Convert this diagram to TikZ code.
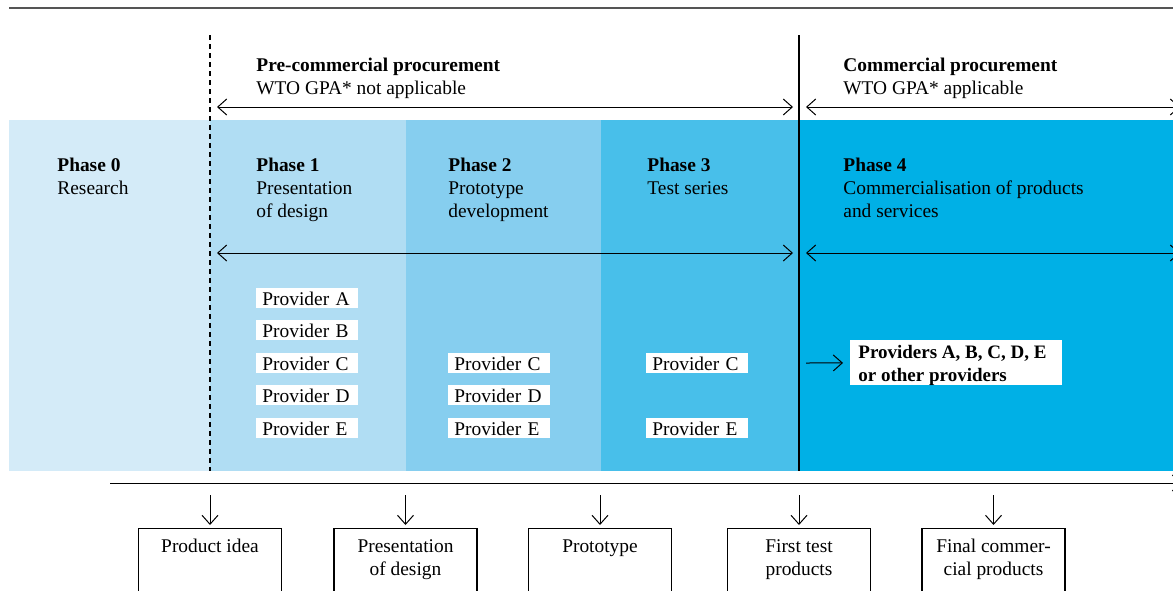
\documentclass[tikz,border=0pt]{standalone}
\usepackage{fontspec}
\setmainfont{Liberation Serif}
\usetikzlibrary{arrows.meta}
\definecolor{cz}{HTML}{D4EBF8}
\definecolor{ca}{HTML}{B0DDF3}
\definecolor{cb}{HTML}{86CEEF}
\definecolor{cc}{HTML}{48BFEA}
\definecolor{cd}{HTML}{00B0E6}
\definecolor{topline}{HTML}{555555}
\begin{document}
\begin{tikzpicture}[x=0.5pt,y=-0.5pt,
  font=\fontsize{9.7}{11.5}\selectfont,
  tip/.tip={Straight Barb[length=4.5pt,width=8pt,line width=0.5pt]},
  arr/.style={line width=0.5pt,-tip},
  darr/.style={line width=0.5pt,tip-tip},
  txt/.style={anchor=base west,inner sep=0pt,align=left},
  prov/.style={fill=white,anchor=north west,text width=45pt,inner xsep=3pt,inner ysep=0pt,minimum height=10pt,align=left},
  outbox/.style={draw,line width=0.6pt,anchor=north,minimum width=71.5pt,minimum height=40pt},
  outtxt/.style={anchor=base,inner sep=0pt,align=center},
  ]
\useasboundingbox (0,0) rectangle (1173,590);
\clip (0,0) rectangle (1173,590);
% top rule
\draw[line width=1pt,topline] (9,8) -- (1173,8);
% bands
\fill[cz] (9,120) rectangle (210,471);
\fill[ca] (210,120) rectangle (406,471);
\fill[cb] (406,120) rectangle (601,471);
\fill[cc] (601,120) rectangle (799,471);
\fill[cd] (799,120) rectangle (1173,471);
% dividers
\draw[line width=0.6pt,dash pattern=on 2.5pt off 2pt] (210,35) -- (210,471);
\draw[line width=0.7pt] (799,35) -- (799,471);
% headers
\node[txt,font=\fontsize{9.7}{11.5}\selectfont\bfseries] (pch) at (256,71) {Pre-commercial procurement};
\node[txt] (pcs) at (256,94) {WTO GPA* not applicable};
\node[txt,font=\fontsize{9.7}{11.5}\selectfont\bfseries] (ch) at (843,71) {Commercial procurement};
\node[txt] (cs) at (843,94) {WTO GPA* applicable};
% top arrows
\coordinate (ta1) at (217,107);
\coordinate (ta2) at (793,107);
\coordinate (ta3) at (806,107);
\coordinate (ta4) at (1180,107);
\draw[darr] (ta1) -- (ta2);
\draw[darr] (ta3) -- (ta4);
% phases (base = baseline of last line)
\node[txt] (p0) at (57,194) {\textbf{Phase 0}\\Research};
\node[txt] (p1) at (256,217) {\textbf{Phase 1}\\Presentation\\of design};
\node[txt] (p2) at (448,217) {\textbf{Phase 2}\\Prototype\\development};
\node[txt] (p3) at (647,194) {\textbf{Phase 3}\\Test series};
\node[txt] (p4) at (843,217) {\textbf{Phase 4}\\Commercialisation of products\\and services};
% middle arrows
\coordinate (ma1) at (217,253);
\coordinate (ma2) at (793,253);
\coordinate (ma3) at (806,253);
\coordinate (ma4) at (1180,253);
\draw[darr] (ma1) -- (ma2);
\draw[darr] (ma3) -- (ma4);
% providers
\node[prov] (a1) at (256,288) {Provider A};
\node[prov] (b1) at (256,320) {Provider B};
\node[prov] (c1) at (256,353) {Provider C};
\node[prov] (d1) at (256,385) {Provider D};
\node[prov] (e1) at (256,418) {Provider E};
\node[prov] (c2) at (448,353) {Provider C};
\node[prov] (d2) at (448,385) {Provider D};
\node[prov] (e2) at (448,418) {Provider E};
\node[prov] (c3) at (646,353) {Provider C};
\node[prov] (e3) at (646,418) {Provider E};
\node[fill=white,anchor=north west,inner sep=0pt,minimum width=106pt,minimum height=22.5pt] (all) at (850,340) {};
\node[txt,font=\fontsize{9.5}{11.5}\selectfont\bfseries] (allt) at (858,381) {Providers A, B, C, D, E\\or other providers};
\coordinate (pa) at (806,363);
\draw[arr,shorten >=3.5pt] (pa) -- (all.west);
% bottom timeline
\coordinate (bl1) at (110,483);
\coordinate (bl2) at (1182,483);
\draw[arr] (bl1) -- (bl2);
% outputs
\foreach \n/\x/\y/\t in {o1/210/552/{Product idea},o2/405.5/575/{Presentation\\of design},o3/600/552/{Prototype},o4/799/575/{First test\\products},o5/993.5/575/{Final commer-\\cial products}}{
  \node[outbox] (\n) at (\x,528) {};
  \node[outtxt] (\n t) at (\x,\y) {\t};
  \coordinate (\n s) at (\x,495);
  \draw[arr,shorten >=1.5pt] (\n s) -- (\n.north);
}
\end{tikzpicture}
\end{document}
